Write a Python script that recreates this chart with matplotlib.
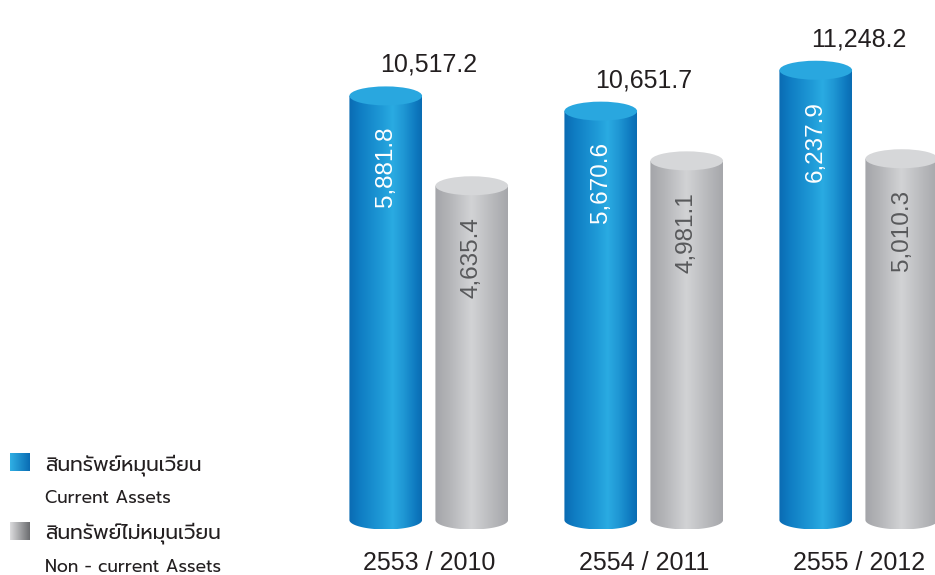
import numpy as np
import matplotlib
matplotlib.use('Agg')
import matplotlib.pyplot as plt
from matplotlib.patches import Ellipse, PathPatch
from matplotlib.path import Path
from matplotlib.colors import LinearSegmentedColormap
from matplotlib import font_manager as fm

# ---------------- data ----------------
years = ['2553 / 2010', '2554 / 2011', '2555 / 2012']
current_assets = [5881.8, 5670.6, 6237.9]
noncurrent_assets = [4635.4, 4981.1, 5010.3]
totals = [10517.2, 10651.7, 11248.2]
legend_thai = ['สินทรัพย์หมุนเวียน', 'สินทรัพย์ไม่หมุนเวียน']
legend_eng = ['Current Assets', 'Non - current Assets']

# ---------------- fonts ----------------
available = {f.name for f in fm.fontManager.ttflist}
thai_family = next((n for n in ['Prompt', 'Kanit', 'Anuphan', 'Athiti', 'Noto Sans Thai']
                    if n in available), 'DejaVu Sans')
num_font = 'Liberation Sans'
thai_fams = [thai_family, num_font]

W, H = 935, 575
fig = plt.figure(figsize=(W / 100, H / 100), dpi=100)
ax = fig.add_axes([0, 0, 1, 1])
ax.axis('off')

xlim = (-428.75 / 215, (W - 428.75) / 215)
ylim = (-763, 7212)
ax.set_xlim(*xlim)
ax.set_ylim(*ylim)
ypp = (ylim[1] - ylim[0]) / H  # data units per pixel (y)

blue_cmap = LinearSegmentedColormap.from_list('b', [
    (0.0, '#0a6bb3'), (0.15, '#0f7dc3'), (0.45, '#1f9ad7'), (0.6, '#2aabe2'),
    (0.75, '#1f97d4'), (0.92, '#0e79bf'), (1.0, '#0a6cb3')])
gray_cmap = LinearSegmentedColormap.from_list('g', [
    (0.0, '#a4a5a9'), (0.2, '#b4b5b8'), (0.5, '#d2d3d5'), (0.8, '#b7b8bb'),
    (1.0, '#a6a7ab')])

bar_w = 0.338
offset = 0.2
ell_h = 19 * ypp
grad = np.linspace(0, 1, 256).reshape(1, -1)


def cylinder(xc, h, cmap, top_color):
    x0, x1 = xc - bar_w / 2, xc + bar_w / 2
    t = np.linspace(np.pi, 2 * np.pi, 80)
    ax_ = xc + bar_w / 2 * np.cos(t)
    ay_ = ell_h / 2 * np.sin(t)
    verts = [(x0, h)] + list(zip(ax_, ay_)) + [(x1, h), (x0, h)]
    codes = [Path.MOVETO] + [Path.LINETO] * (len(verts) - 2) + [Path.CLOSEPOLY]
    patch = PathPatch(Path(verts, codes), facecolor='none', edgecolor='none',
                      transform=ax.transData)
    ax.add_patch(patch)
    im = ax.imshow(grad, extent=[x0, x1, -ell_h / 2, h], aspect='auto',
                   cmap=cmap, origin='lower', interpolation='bilinear', zorder=1)
    im.set_clip_path(patch)
    ax.add_patch(Ellipse((xc, h), bar_w, ell_h, facecolor=top_color,
                         edgecolor='none', zorder=3))


x = np.arange(len(years))
for i in x:
    cur, non = current_assets[i], noncurrent_assets[i]
    cylinder(i - offset, cur, blue_cmap, '#29a7df')
    cylinder(i + offset, non, gray_cmap, '#d6d7d9')
    ax.text(i - offset, cur - 31 * ypp, f'{cur:,.1f}', rotation=90,
            ha='center', va='top', color='white', fontsize=17.5,
            family=num_font, zorder=5)
    ax.text(i + offset, non - 31 * ypp, f'{non:,.1f}', rotation=90,
            ha='center', va='top', color='#58595b', fontsize=17.5,
            family=num_font, zorder=5)
    ax.text(i, max(cur, non) + 31 * ypp, f'{totals[i]:,.1f}', ha='center',
            va='center', color='#231f20', fontsize=18, family=num_font, zorder=5)
    ax.text(i, ylim[0] + (H - 563) * ypp, years[i], ha='center', va='center',
            color='#231f20', fontsize=18, family=num_font, zorder=5)

# ---------------- legend ----------------
sq_cmaps = [
    LinearSegmentedColormap.from_list('lb', ['#30b0e5', '#0a6cb3']),
    LinearSegmentedColormap.from_list('lg', ['#dcdcde', '#6b6c6f']),
]
sq_top = [453, 522]
thai_base = [470, 538]
eng_base = [503, 572]
for k in range(2):
    sax = fig.add_axes([10 / W, 1 - (sq_top[k] + 18) / H, 20 / W, 18 / H])
    sax.imshow(grad, aspect='auto', cmap=sq_cmaps[k], interpolation='bilinear')
    sax.axis('off')
    fig.text(45 / W, 1 - thai_base[k] / H, legend_thai[k], family=thai_fams,
             fontsize=14.5, weight='normal', color='#231f20', va='baseline', ha='left')
    fig.text(45 / W, 1 - eng_base[k] / H, legend_eng[k], family=thai_fams,
             fontsize=12.5, weight='normal', color='#231f20', va='baseline', ha='left')

fig.savefig('out.png', dpi=100)
